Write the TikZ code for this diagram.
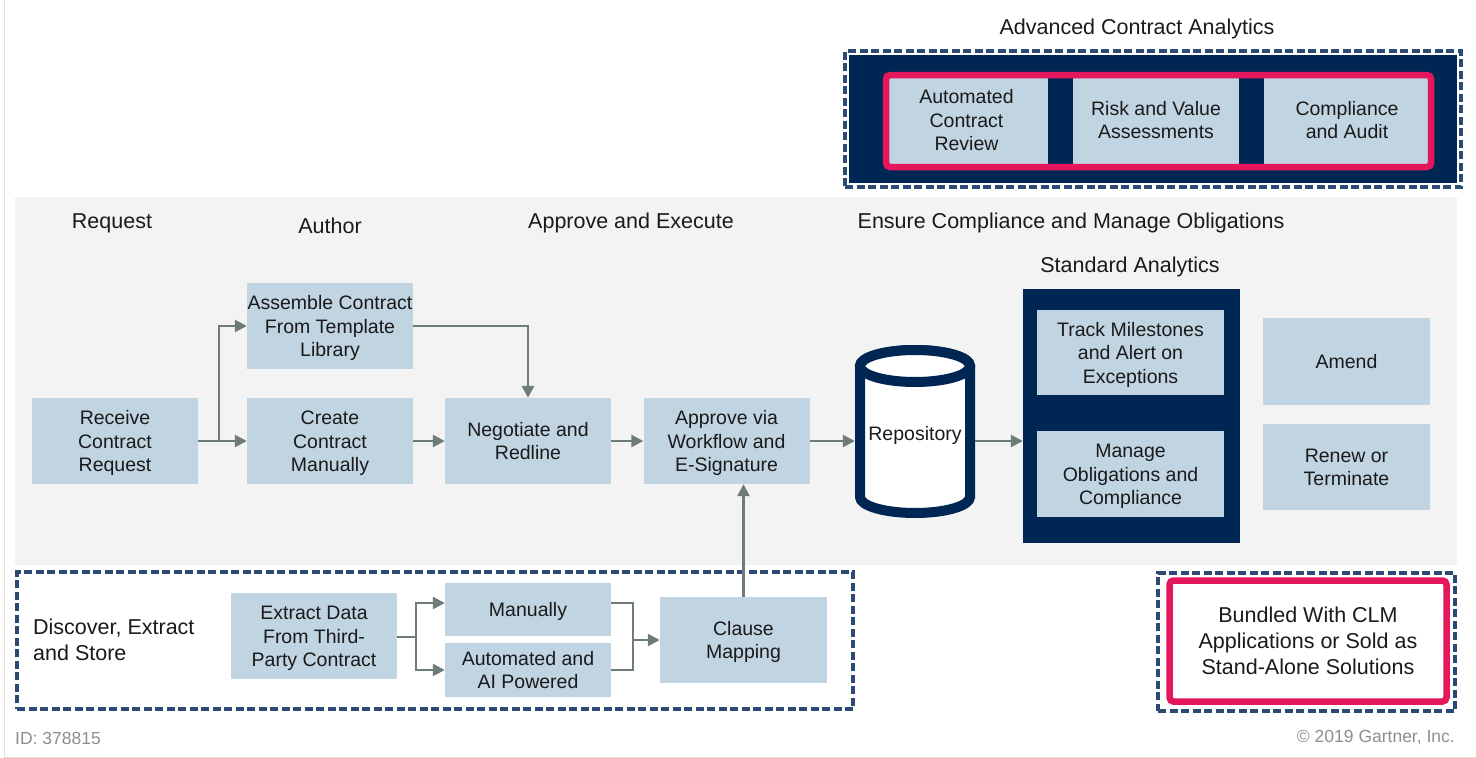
\documentclass[tikz,border=0pt]{standalone}
\usepackage{fontspec}
\setmainfont{Liberation Sans}
\usetikzlibrary{arrows.meta}
\definecolor{lb}{HTML}{C1D4E2}
\definecolor{navy}{HTML}{002653}
\definecolor{panel}{HTML}{F3F3F3}
\definecolor{redc}{HTML}{E5175C}
\definecolor{arr}{HTML}{6E7B7B}
\definecolor{dsh}{HTML}{2B4B75}
\definecolor{txt}{HTML}{1A1A1A}
\definecolor{foot}{HTML}{8E8E8E}
\newcommand\boxtxt[1]{\rule{0pt}{19pt}#1\rule[-5pt]{0pt}{5pt}}
\newcommand\bigtxt[1]{\rule{0pt}{21pt}#1\rule[-5.6pt]{0pt}{5.6pt}}
\begin{document}
\begin{tikzpicture}[x=1pt,y=-1pt,
  box/.style={fill=lb, text=txt, align=center, inner sep=0pt, font=\fontsize{19.5}{23.5}\selectfont},
  sz/.style 2 args={minimum width=#1pt, minimum height=#2pt},
  hdr/.style={text=txt, inner sep=0pt, font=\fontsize{21.5}{26}\selectfont},
  conn/.style={draw=arr, line width=2.5pt, -{Triangle[length=12pt,width=12pt]}},
  plain/.style={draw=arr, line width=2.5pt},
  dashbox/.style={draw=dsh, line width=3.2pt, dash pattern=on 8pt off 3.5pt, inner sep=0pt},
  redbox/.style={draw=redc, line width=6.5pt, rounded corners=4pt, inner sep=0pt},
  cyl/.style={draw=navy, line width=10pt, fill=white}]
\useasboundingbox (0,0) rectangle (1476,758);
\fill[white] (0,0) rectangle (1476,758);
\draw[gray!25, line width=1pt] (4,0) -- (4,757) -- (1476,757);

% main panel
\fill[panel] (15,197) rectangle (1457,565);

% advanced contract analytics
\node[hdr] (acatitle) at (1137,27) {\bigtxt{Advanced Contract Analytics}};
\node[fill=navy, inner sep=0pt, sz={608}{128}] (acabg) at (1153,119) {};
\node[dashbox, sz={616}{136}] (acaframe) at (1153,119) {};
\node[box, sz={163}{88}] (acr) at (966.5,120) {\boxtxt{Automated\\Contract\\Review}};
\node[box, sz={166}{88}] (rva) at (1156,120) {\boxtxt{Risk and Value\\Assessments}};
\node[box, sz={166}{88}] (cau) at (1347,120) {\boxtxt{Compliance\\and Audit}};
\node[redbox, sz={545}{92}] (acared) at (1158.5,121) {};

% headers
\node[hdr] (hreq) at (112,221) {\bigtxt{Request}};
\node[hdr] (haut) at (330,226) {\bigtxt{Author}};
\node[hdr] (hape) at (631,221) {\bigtxt{Approve and Execute}};
\node[hdr] (hens) at (1071,221) {\bigtxt{Ensure Compliance and Manage Obligations}};
\node[hdr] (hstd) at (1130,265) {\bigtxt{Standard Analytics}};

% main flow
\node[box, sz={166}{86}] (rcv) at (115,441) {\boxtxt{Receive\\Contract\\Request}};
\node[box, sz={166}{86}] (asm) at (330,326) {\boxtxt{Assemble Contract\\From Template\\Library}};
\node[box, sz={166}{86}] (crt) at (330,441) {\boxtxt{Create\\Contract\\Manually}};
\node[box, sz={166}{86}] (neg) at (528,441) {\boxtxt{Negotiate and\\Redline}};
\node[box, sz={166}{86}] (apr) at (726.5,441) {\boxtxt{Approve via\\Workflow and\\E-Signature}};

% repository cylinder
\draw[cyl] (860,366) -- (860,497) arc[start angle=180, end angle=0, x radius=55, y radius=16]
  -- (970,366) arc[start angle=0, end angle=-180, x radius=55, y radius=16] -- cycle;
\draw[cyl] (915,366) ellipse [x radius=55, y radius=16];
\node[box, fill=none, sz={120}{170}] (repo) at (915,433) {\boxtxt{Repository}};

% standard analytics
\node[fill=navy, inner sep=0pt, sz={217}{254}] (std) at (1131.5,416) {};
\node[box, sz={187}{85}] (trk) at (1130.5,352.5) {\boxtxt{Track Milestones\\and Alert on\\Exceptions}};
\node[box, sz={187}{86}] (mng) at (1130.5,474) {\boxtxt{Manage\\Obligations and\\Compliance}};
\node[box, sz={167}{87}] (amd) at (1346.5,361.5) {\boxtxt{Amend}};
\node[box, sz={167}{86}] (rnw) at (1346.5,467) {\boxtxt{Renew or\\Terminate}};

% connectors main
\coordinate (br1) at (219,441);
\draw[conn] (rcv) -- (crt);
\draw[conn] (br1) |- (asm.west);
\draw[conn] (asm.east) -| (neg.north);
\draw[conn] (crt) -- (neg);
\draw[conn] (neg) -- (apr);
\draw[conn] (apr.east) -- (apr.east -| repo.west);
\draw[conn] (repo.east |- apr.east) -- (std.west |- apr.east);

% discover, extract and store
\node[dashbox, sz={836}{137}] (dfr) at (435,640.5) {};
\node[hdr, align=left, anchor=west] (dtx) at (33,640) {\bigtxt{Discover, Extract\\and Store}};
\node[box, sz={166}{86}] (ext) at (314,636) {\boxtxt{Extract Data\\From Third-\\Party Contract}};
\node[box, sz={166}{53}] (man) at (528,609.5) {\boxtxt{Manually}};
\node[box, sz={166}{54}] (aut) at (528,670) {\boxtxt{Automated and\\AI Powered}};
\node[box, sz={167}{86}] (cls) at (743.5,640) {\boxtxt{Clause\\Mapping}};

\coordinate (br2) at (416,637);
\coordinate (mg) at (633,640);
\draw[plain] (ext.east |- br2) -- (br2);
\draw[conn] (br2) |- ([yshift=6.5pt]man.west);
\draw[conn] (br2) |- (aut.west);
\draw[plain] ([yshift=6.5pt]man.east) -| (mg);
\draw[plain] (aut.east) -| (mg);
\draw[conn] (mg) -- (mg -| cls.west);
\draw[conn] (cls.north) -- (cls.north |- apr.south);

% bundled
\node[dashbox, sz={297}{138}] (bfr) at (1306.5,642) {};
\node[redbox, fill=white, sz={277}{121}, text=txt, align=center, font=\fontsize{21.5}{26}\selectfont] (bnd) at (1308,641) {\bigtxt{Bundled With CLM\\Applications or Sold as\\Stand-Alone Solutions}};

% footer
\node[anchor=west, text=foot, inner sep=0pt, font=\fontsize{17.5}{21}\selectfont] (fid) at (15,738) {ID: 378815};
\node[anchor=east, text=foot, inner sep=0pt, font=\fontsize{17.5}{21}\selectfont] (fcr) at (1455,738) {© 2019 Gartner, Inc.};
\end{tikzpicture}
\end{document}
